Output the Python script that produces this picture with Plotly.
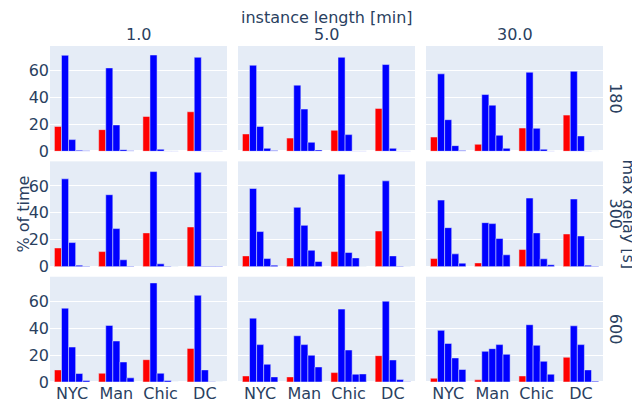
import plotly.graph_objects as go
from plotly.subplots import make_subplots

cities = ["NYC", "Man", "Chic", "DC"]
series_names = ["0", "1", "2", "3", "4"]
series_colors = ["red", "blue", "blue", "blue", "blue"]
lengths = ["1.0", "5.0", "30.0"]
delays = ["180", "300", "600"]

# each facet: 5 series (rows) x 4 cities (columns), % of time
d180_l1 = [[18.5, 16.1, 25.9, 29.4],
           [71.4, 62.0, 71.6, 69.9],
           [8.7, 19.6, 1.5, 0.3],
           [0.7, 1.2, 0.3, 0.3],
           [0.4, 0.4, 0.2, 0.2]]
d180_l5 = [[12.9, 9.8, 15.6, 31.9],
           [64.0, 49.2, 69.9, 64.5],
           [18.5, 31.4, 12.4, 2.2],
           [2.2, 6.7, 0.3, 0.3],
           [0.6, 1.0, 0.3, 0.2]]
d180_l30 = [[10.6, 5.2, 17.3, 26.9],
            [57.6, 42.2, 58.8, 59.5],
            [23.5, 34.3, 17.1, 11.4],
            [4.2, 11.9, 1.5, 0.3],
            [0.5, 2.2, 0.3, 0.0]]
d300_l1 = [[13.9, 11.2, 25.1, 29.5],
           [65.3, 53.5, 70.7, 70.2],
           [17.9, 28.3, 2.1, 0.3],
           [1.1, 5.1, 0.3, 0.3],
           [0.3, 0.3, 0.0, 0.2]]
d300_l5 = [[8.0, 6.5, 11.2, 26.5],
           [58.1, 44.1, 68.8, 63.8],
           [26.1, 30.7, 10.5, 8.0],
           [6.0, 12.2, 6.5, 0.3],
           [1.1, 3.8, 0.0, 0.0]]
d300_l30 = [[6.0, 2.8, 12.7, 24.3],
            [49.5, 32.7, 51.0, 50.3],
            [29.0, 32.0, 25.1, 22.8],
            [9.5, 20.9, 5.8, 1.1],
            [2.6, 8.8, 1.4, 0.3]]
d600_l1 = [[9.0, 6.5, 16.6, 25.0],
           [54.9, 42.1, 73.7, 64.5],
           [26.0, 30.5, 6.5, 9.0],
           [6.3, 14.9, 1.1, 0.2],
           [1.1, 3.1, 0.0, 0.0]]
d600_l5 = [[4.5, 3.8, 7.0, 19.6],
           [47.5, 34.4, 54.2, 60.1],
           [27.8, 27.8, 23.8, 16.4],
           [13.2, 19.9, 5.8, 1.8],
           [3.8, 11.2, 6.0, 0.2]]
d600_l30 = [[2.8, 1.6, 4.5, 18.4],
            [38.4, 22.8, 42.6, 41.8],
            [28.7, 24.8, 27.3, 27.8],
            [17.9, 27.8, 15.4, 9.0],
            [9.3, 20.6, 5.8, 0.6]]

facets = [[d180_l1, d180_l5, d180_l30],
          [d300_l1, d300_l5, d300_l30],
          [d600_l1, d600_l5, d600_l30]]

fig = make_subplots(rows=3, cols=3, shared_xaxes=True, shared_yaxes=True,
                    horizontal_spacing=0.02, vertical_spacing=0.03)

for r in range(3):
    for c in range(3):
        data = facets[r][c]
        for s in range(5):
            fig.add_trace(go.Bar(x=cities, y=data[s], name=series_names[s],
                                 marker_color=series_colors[s],
                                 showlegend=False),
                          row=r + 1, col=c + 1)

fig.update_layout(
    width=640, height=407,
    template="plotly",
    barmode="group", bargap=0.2,
    margin=dict(l=41.5, r=45.3, t=38, b=33),
    font=dict(family="DejaVu Sans", size=16),
    showlegend=False,
)
fig.update_yaxes(range=[0, 78.3], tickvals=[0, 20, 40, 60])
fig.update_xaxes(showgrid=False)

# column titles
for c in range(3):
    dom = fig.layout[f"xaxis{'' if c == 0 else c + 1}"].domain
    fig.add_annotation(text=lengths[c], x=(dom[0] + dom[1]) / 2, y=1,
                       xref="paper", yref="paper", xanchor="center",
                       yanchor="bottom", showarrow=False, yshift=0)
fig.add_annotation(text="instance length [min]", x=0.5, y=1, xref="paper",
                   yref="paper", xanchor="center", yanchor="bottom",
                   showarrow=False, yshift=17)
# row titles
for r in range(3):
    dom = fig.layout[f"yaxis{'' if r == 0 else 3 * r + 1}"].domain
    fig.add_annotation(text=delays[r], x=1, y=(dom[0] + dom[1]) / 2,
                       xref="paper", yref="paper", xanchor="left",
                       yanchor="middle", textangle=90, showarrow=False,
                       xshift=1)
fig.add_annotation(text="max delay [s]", x=1, y=0.5, xref="paper",
                   yref="paper", xanchor="left", yanchor="middle",
                   textangle=90, showarrow=False, xshift=14)
fig.add_annotation(text="% of time", x=0, y=0.5, xref="paper", yref="paper",
                   xanchor="right", yanchor="middle", textangle=-90,
                   showarrow=False, xshift=-16)

fig.write_html("out.html")
